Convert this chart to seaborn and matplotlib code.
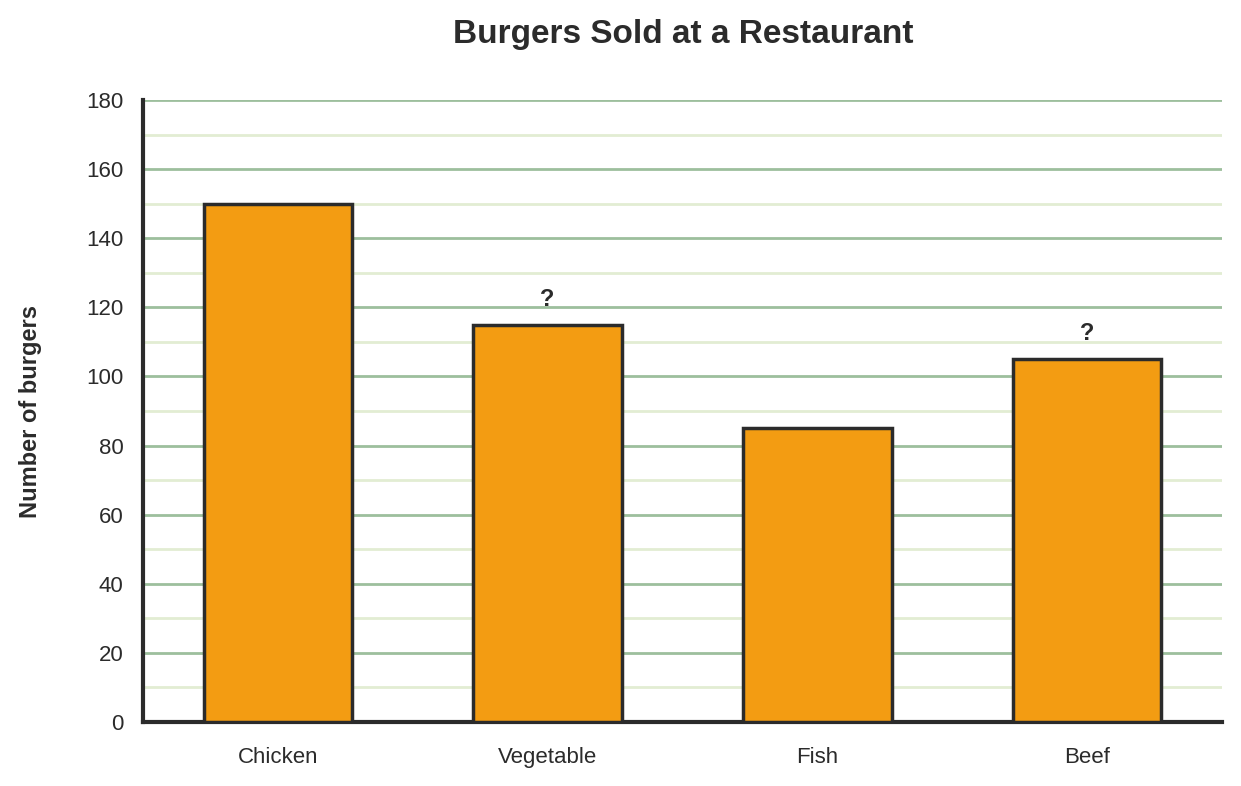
import pandas as pd
import matplotlib
matplotlib.use("Agg")
import matplotlib.pyplot as plt
import seaborn as sns
from matplotlib.ticker import MultipleLocator

# Chart values
burgers = ["Chicken", "Vegetable", "Fish", "Beef"]
sold = [150, 115, 85, 105]
unknown = [False, True, False, True]

data = pd.DataFrame({"Burger": burgers, "Sold": sold})

sns.set_style("white")
plt.rcParams["font.family"] = ["Liberation Sans", "DejaVu Sans"]

fig = plt.figure(figsize=(12.41, 7.86), dpi=100)
ax = fig.add_axes([143 / 1241, 1 - 722 / 786, (1222 - 143) / 1241, (722 - 100) / 786])

sns.barplot(x="Burger", y="Sold", data=data, color="#F39C12", saturation=1,
            width=0.55, edgecolor="#2b2b2b", linewidth=2.5, ax=ax, zorder=3)

ax.set_xlim(-0.5, 3.5)
ax.set_ylim(0, 180)
ax.yaxis.set_major_locator(MultipleLocator(20))
ax.yaxis.set_minor_locator(MultipleLocator(10))
ax.grid(which="major", axis="y", color="#9dbf9d", linewidth=2, zorder=0)
ax.grid(which="minor", axis="y", color="#e2edd3", linewidth=2, zorder=0)
ax.set_axisbelow(True)

# question marks over the bars with unknown values
for i, (v, q) in enumerate(zip(sold, unknown)):
    if q:
        ax.text(i, v + 4, "?", ha="center", va="bottom", fontsize=17,
                fontweight="bold", color="#2b2b2b")

for side in ["top", "right"]:
    ax.spines[side].set_visible(False)
for side in ["left", "bottom"]:
    ax.spines[side].set_color("#2b2b2b")
    ax.spines[side].set_linewidth(3)

ax.tick_params(axis="both", which="both", length=0, labelsize=16, colors="#2b2b2b")
ax.tick_params(axis="y", pad=14)
ax.tick_params(axis="x", pad=18)
ax.set_xlabel("")
ax.set_ylabel("Number of burgers", fontsize=17, fontweight="bold", color="#2b2b2b", labelpad=32)
fig.suptitle("Burgers Sold at a Restaurant", fontsize=24, fontweight="bold",
             color="#2b2b2b", x=683 / 1241, y=1 - 19 / 786, va="top")

fig.savefig("out.png", dpi=100, facecolor="white")
